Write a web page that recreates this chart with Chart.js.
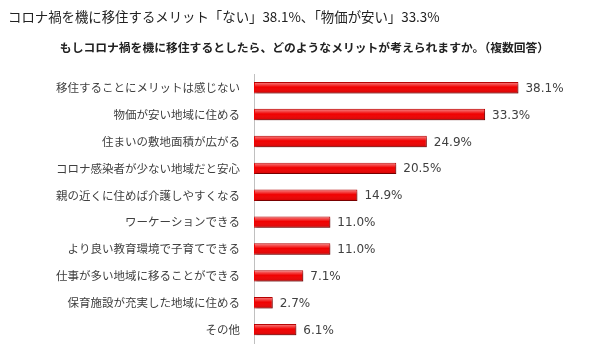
<!DOCTYPE html>
<html lang="ja">
<head>
    <meta charset="UTF-8">
    <title>移住メリット</title>
    <script src="https://cdn.jsdelivr.net/npm/chart.js"></script>
    <style>
        body {
            margin: 0;
            padding: 0;
            background-color: #fff;
        }
        #chart-container {
            width: 606px;
            height: 364px;
            position: relative;
        }
    </style>
</head>
<body>
    <div id="chart-container">
        <canvas id="bar-chart"></canvas>
    </div>

    <script>
        const titleText = 'コロナ禍を機に移住するメリット「ない」38.1%、「物価が安い」33.3%';
        const subtitleText = 'もしコロナ禍を機に移住するとしたら、どのようなメリットが考えられますか。（複数回答）';

        const categories = [
            '移住することにメリットは感じない',
            '物価が安い地域に住める',
            '住まいの敷地面積が広がる',
            'コロナ感染者が少ない地域だと安心',
            '親の近くに住めば介護しやすくなる',
            'ワーケーションできる',
            'より良い教育環境で子育てできる',
            '仕事が多い地域に移ることができる',
            '保育施設が充実した地域に住める',
            'その他'
        ];
        const values = [38.1, 33.3, 24.9, 20.5, 14.9, 11.0, 11.0, 7.1, 2.7, 6.1];

        const jpFont = "'Noto Sans CJK JP', 'Noto Sans', sans-serif";

        // drop shadow under the bars
        const barShadow = {
            id: 'barShadow',
            beforeDatasetsDraw(chart) {
                const ctx = chart.ctx;
                ctx.save();
                ctx.shadowColor = 'rgba(0, 0, 0, 0.35)';
                ctx.shadowOffsetX = 2;
                ctx.shadowOffsetY = 2;
                ctx.shadowBlur = 2;
            },
            afterDatasetsDraw(chart) {
                const ctx = chart.ctx;
                ctx.restore();

                // highlight on top of each bar + value labels
                const meta = chart.getDatasetMeta(0);
                meta.data.forEach((bar, i) => {
                    const top = bar.y - bar.height / 2;
                    const g = ctx.createLinearGradient(0, top, 0, top + bar.height);
                    g.addColorStop(0, 'rgba(255,255,255,0.55)');
                    g.addColorStop(0.45, 'rgba(255,255,255,0)');
                    g.addColorStop(1, 'rgba(0,0,0,0.15)');
                    ctx.fillStyle = g;
                    ctx.fillRect(bar.base + 1, top + 1, bar.x - bar.base - 2, bar.height - 2);

                    ctx.fillStyle = '#404040';
                    ctx.font = "12px 'DejaVu Sans', sans-serif";
                    ctx.textAlign = 'left';
                    ctx.textBaseline = 'middle';
                    ctx.fillText(values[i].toFixed(1) + '%', bar.x + 7, bar.y + 1);
                });
            }
        };

        const ctx = document.getElementById('bar-chart').getContext('2d');
        new Chart(ctx, {
            type: 'bar',
            data: {
                labels: categories,
                datasets: [{
                    data: values,
                    backgroundColor: '#f00000',
                    borderColor: '#b40000',
                    borderWidth: 1,
                    barPercentage: 0.85,
                    categoryPercentage: 0.5
                }]
            },
            options: {
                indexAxis: 'y',
                responsive: true,
                maintainAspectRatio: false,
                animation: false,
                layout: {
                    padding: { left: 8, right: 5, top: 0, bottom: 16 }
                },
                plugins: {
                    legend: { display: false },
                    tooltip: { enabled: false },
                    title: {
                        display: true,
                        text: titleText,
                        align: 'start',
                        color: '#222',
                        font: { family: jpFont, size: 13.4, weight: 'normal' },
                        padding: { top: 9, bottom: 15 }
                    },
                    subtitle: {
                        display: true,
                        text: subtitleText,
                        color: '#222',
                        font: { family: jpFont, size: 11.8, weight: 'bold' },
                        padding: { top: 0, bottom: 20 }
                    }
                },
                scales: {
                    x: {
                        display: false,
                        min: 0,
                        max: 50
                    },
                    y: {
                        grid: { display: false, drawTicks: false },
                        border: { display: true, color: '#c0c0c0', width: 1 },
                        ticks: {
                            color: '#404040',
                            padding: 14,
                            font: { family: jpFont, size: 11.5 }
                        },
                        afterFit(scale) {
                            scale.width = 246;
                        }
                    }
                }
            },
            plugins: [barShadow]
        });
    </script>
</body>
</html>
